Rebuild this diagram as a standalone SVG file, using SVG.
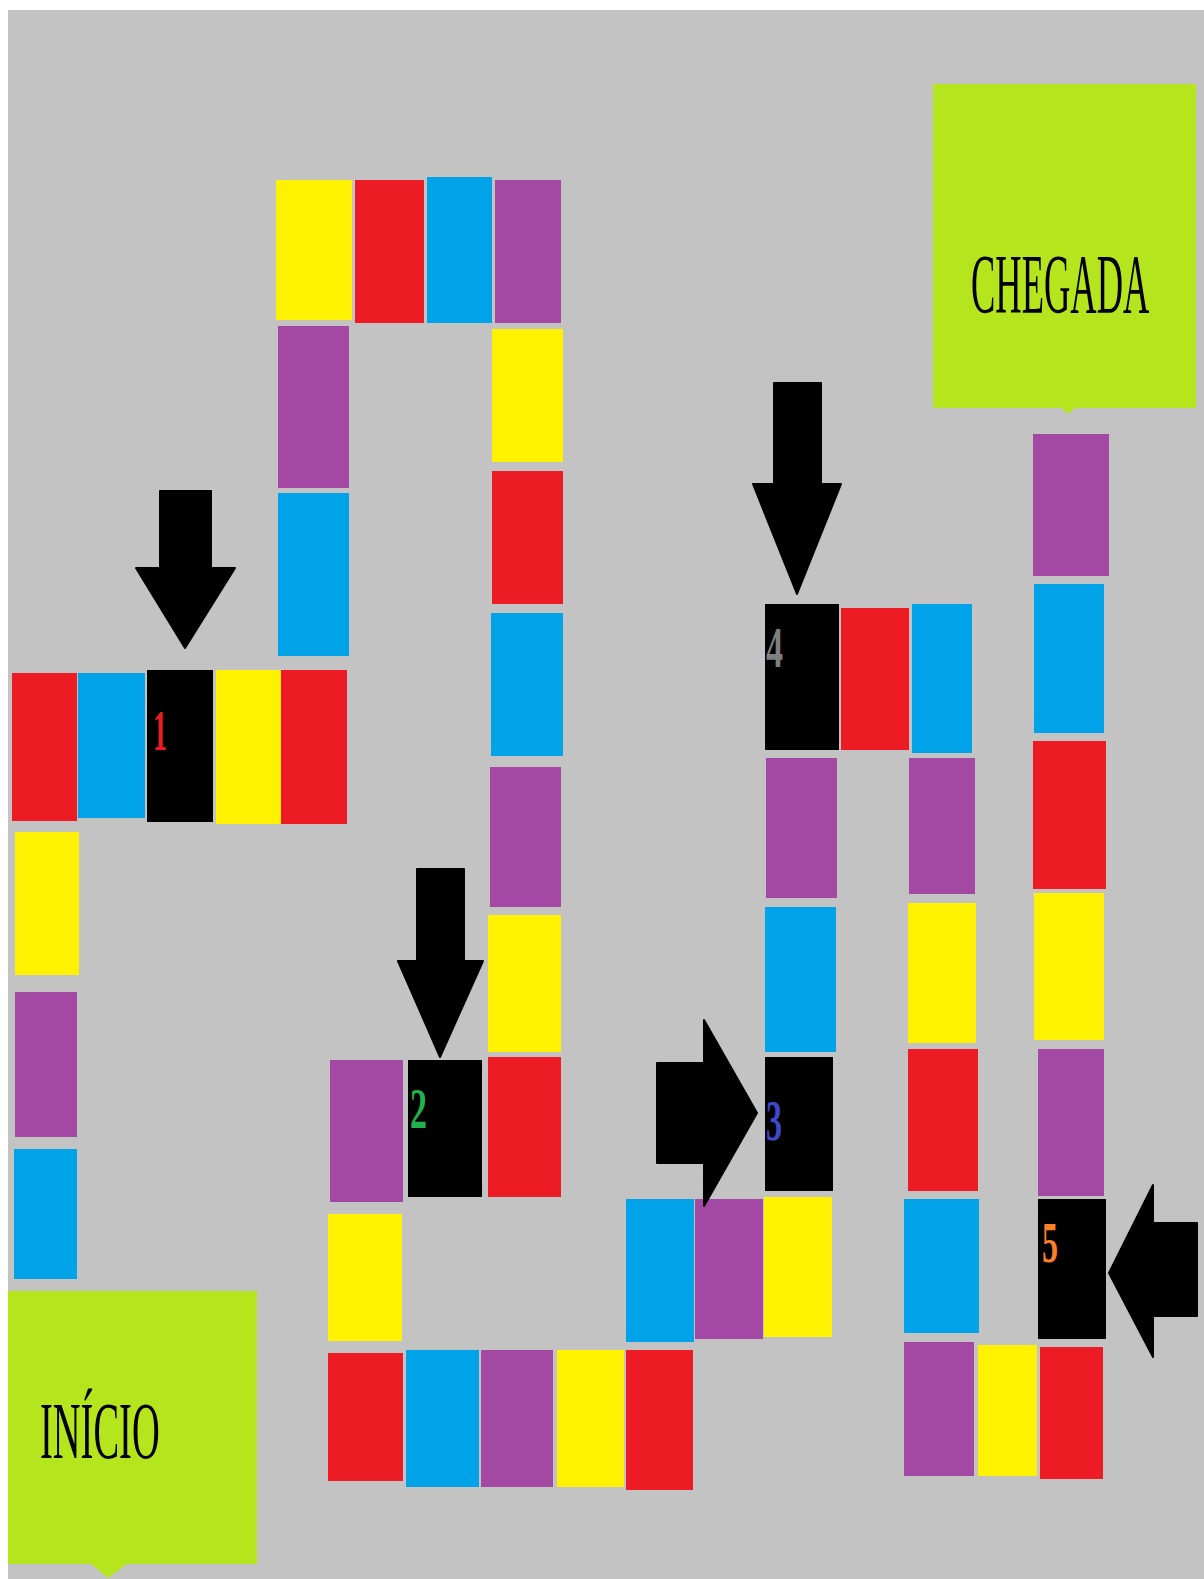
<svg xmlns="http://www.w3.org/2000/svg" width="1204" height="1579" viewBox="0 0 1204 1579">
<style>
.y{fill:#fff200}.r{fill:#ed1c24}.b{fill:#00a2e8}.p{fill:#a349a4}.k{fill:#000}
.lime{fill:#b5e61d}
.lbl{font-family:"Liberation Serif","DejaVu Serif",serif;fill:#000}
.num{font-family:"Liberation Serif","DejaVu Serif",serif;font-weight:bold}
.arrow{fill:#000;stroke:#000;stroke-width:2;stroke-linejoin:round}
</style>
<rect width="1204" height="1579" fill="#fff"/>
<rect x="8" y="10" width="1196" height="1569" fill="#c3c3c3"/>
<g id="tiles">
<rect class="y" x="276" y="180" width="76" height="140"/>
<rect class="r" x="355" y="180" width="69" height="143"/>
<rect class="b" x="427" y="177" width="65" height="146"/>
<rect class="p" x="495" y="180" width="66" height="143"/>
<rect class="p" x="278" y="326" width="71" height="162"/>
<rect class="b" x="278" y="493" width="71" height="163"/>
<rect class="y" x="492" y="329" width="71" height="133"/>
<rect class="r" x="492" y="471" width="71" height="133"/>
<rect class="b" x="491" y="613" width="72" height="143"/>
<rect class="p" x="490" y="767" width="71" height="140"/>
<rect class="y" x="488" y="915" width="73" height="137"/>
<rect class="r" x="488" y="1057" width="73" height="140"/>
<rect class="r" x="12" y="673" width="65" height="148"/>
<rect class="b" x="78" y="673" width="67" height="145"/>
<g id="tile1"><rect class="k" x="147" y="670" width="66" height="152"/><text class="num" x="153" y="750" font-size="56" fill="#ed1c24" textLength="14" lengthAdjust="spacingAndGlyphs">1</text></g>
<rect class="y" x="216" y="670" width="65" height="154"/>
<rect class="r" x="281" y="670" width="66" height="154"/>
<rect class="y" x="15" y="832" width="64" height="143"/>
<rect class="p" x="15" y="992" width="62" height="145"/>
<rect class="b" x="14" y="1149" width="63" height="130"/>
<rect class="p" x="330" y="1060" width="73" height="142"/>
<g id="tile2"><rect class="k" x="408" y="1060" width="74" height="137"/><text class="num" x="410" y="1128" font-size="56" fill="#22b14c" textLength="17" lengthAdjust="spacingAndGlyphs">2</text></g>
<rect class="y" x="328" y="1214" width="74" height="127"/>
<rect class="r" x="328" y="1353" width="75" height="128"/>
<rect class="b" x="406" y="1350" width="73" height="137"/>
<rect class="p" x="481" y="1350" width="72" height="137"/>
<rect class="y" x="557" y="1350" width="67" height="137"/>
<rect class="r" x="626" y="1350" width="67" height="140"/>
<rect class="b" x="626" y="1199" width="68" height="143"/>
<rect class="p" x="695" y="1199" width="68" height="140"/>
<rect class="y" x="764" y="1197" width="68" height="140"/>
<g id="tile3"><rect class="k" x="765" y="1057" width="68" height="134"/><text class="num" x="766" y="1140" font-size="56" fill="#3f48cc" textLength="16" lengthAdjust="spacingAndGlyphs">3</text></g>
<rect class="b" x="765" y="907" width="71" height="145"/>
<rect class="p" x="766" y="758" width="71" height="140"/>
<g id="tile4"><rect class="k" x="765" y="604" width="74" height="146"/><text class="num" x="766" y="667" font-size="56" fill="#7f7f7f" textLength="17" lengthAdjust="spacingAndGlyphs">4</text></g>
<rect class="r" x="841" y="608" width="68" height="142"/>
<rect class="b" x="912" y="604" width="60" height="149"/>
<rect class="p" x="909" y="758" width="66" height="136"/>
<rect class="y" x="908" y="903" width="68" height="140"/>
<rect class="r" x="908" y="1049" width="70" height="142"/>
<rect class="b" x="904" y="1199" width="75" height="134"/>
<rect class="p" x="904" y="1342" width="70" height="134"/>
<rect class="y" x="978" y="1345" width="59" height="131"/>
<rect class="r" x="1040" y="1347" width="63" height="132"/>
<g id="tile5"><rect class="k" x="1038" y="1199" width="68" height="140"/><text class="num" x="1042" y="1262" font-size="56" fill="#ff7f27" textLength="16" lengthAdjust="spacingAndGlyphs">5</text></g>
<rect class="p" x="1038" y="1049" width="66" height="147"/>
<rect class="y" x="1034" y="893" width="70" height="147"/>
<rect class="r" x="1033" y="741" width="73" height="148"/>
<rect class="b" x="1034" y="584" width="70" height="149"/>
<rect class="p" x="1033" y="434" width="76" height="142"/>
</g>
<g id="inicio">
<rect class="lime" x="8" y="1291" width="249" height="273"/>
<polygon class="lime" points="90,1563 128,1563 108,1578"/>
<text class="lbl" transform="translate(40,1458) scale(1,2.08)" x="0" y="0" font-size="38.5">INÍCIO</text>
</g>
<g id="chegada">
<rect class="lime" x="933" y="84" width="263" height="324"/>
<polygon class="lime" points="1060,407 1076,407 1068,414"/>
<text class="lbl" transform="translate(971,313) scale(1,2.3)" x="0" y="0" font-size="36.5">CHEGADA</text>
</g>
<g id="connectors">
<polygon class="arrow" points="160,491 211,491 211,568 235,568 185,648 136,568 160,568"/>
<polygon class="arrow" points="417,869 464,869 464,961 483,961 440,1057 398,961 417,961"/>
<polygon class="arrow" points="774,383 821,383 821,484 841,484 797,594 753,484 774,484"/>
<polygon class="arrow" points="657,1063 704,1063 704,1020 757,1113 704,1206 704,1163 657,1163"/>
<polygon class="arrow" points="1197,1223 1153,1223 1153,1185 1109,1273 1153,1357 1153,1316 1197,1316"/>
</g>
</svg>
